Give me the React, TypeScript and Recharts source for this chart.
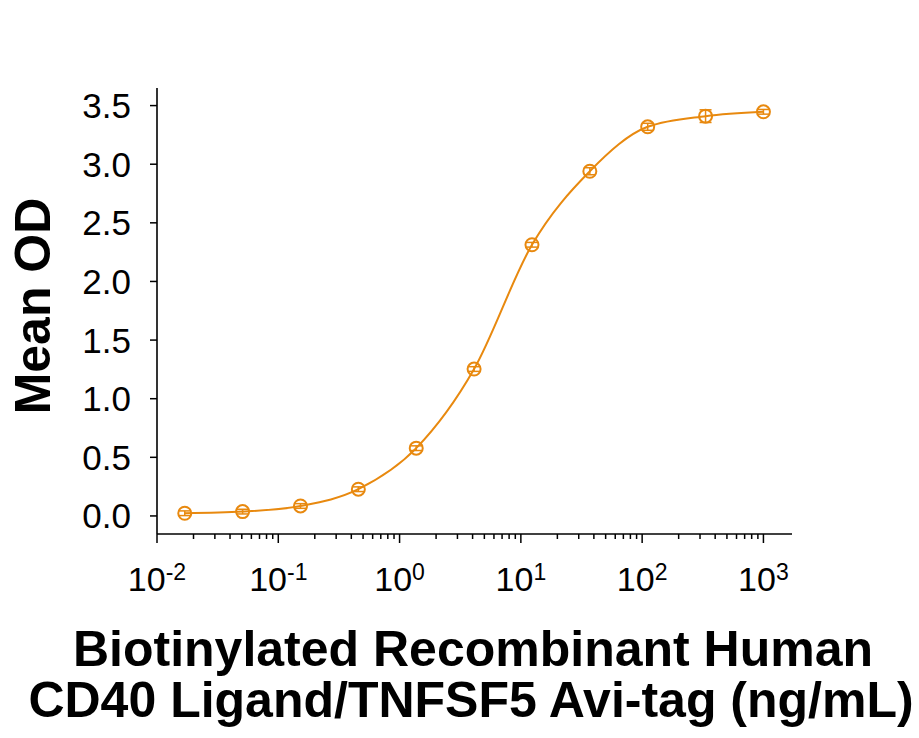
import { ComposedChart, Line, Scatter, ErrorBar, XAxis, YAxis, Label } from 'recharts'

// concentration (ng/mL), 3-fold dilution series
const concentrations = [0.01694, 0.0508, 0.1524, 0.4572, 1.372, 4.115, 12.35, 37.04, 111.1, 333.3, 1000]
const meanOD = [0.023, 0.037, 0.085, 0.228, 0.578, 1.253, 2.313, 2.94, 3.319, 3.41, 3.447]
const odError = [0.02, 0.02, 0.02, 0.02, 0.02, 0.02, 0.02, 0.03, 0.03, 0.054, 0.02]

const yTicks = [0, 0.5, 1, 1.5, 2, 2.5, 3, 3.5]
const majorTicks = [0.01, 0.1, 1, 10, 100, 1000]
const majorExponents = ['-2', '-1', '0', '1', '2', '3']
const minorSteps = [2, 3, 4, 5, 6, 7, 8, 9]
const xTicks = [
  ...majorTicks,
  ...majorTicks.slice(0, 5).flatMap(d => minorSteps.map(m => +(d * m).toPrecision(3))),
].sort((a, b) => a - b)

const rows = concentrations.map((c, i) => ({ conc: c, od: meanOD[i], err: odError[i] }))

const ORANGE = '#e8890f'
const FONT = '"Liberation Sans", Arial, sans-serif'

function XTick(props: any) {
  const { x, y, payload } = props
  const idx = majorTicks.findIndex(t => Math.abs(t - payload.value) / t < 1e-6)
  const major = idx >= 0
  return (
    <g>
      <line x1={x} y1={y} x2={x} y2={y + (major ? 9 : 5)} stroke="#000" strokeWidth={1.5} />
      {major && (
        <text x={x} y={591} textAnchor="middle" fontSize={34} fontFamily={FONT} fill="#000">
          <tspan>10</tspan>
          <tspan dy={-11} fontSize={23}>{majorExponents[idx]}</tspan>
        </text>
      )}
    </g>
  )
}

function Circle(props: any) {
  const { cx, cy } = props
  return <circle cx={cx} cy={cy} r={6.5} fill="none" stroke={ORANGE} strokeWidth={2} />
}

export default function App() {
  return (
    <div style={{ position: 'absolute', left: 0, top: 0, background: '#fff' }}>
      <ComposedChart
        width={919}
        height={738}
        data={rows}
        margin={{ top: 88, right: 127, bottom: 144, left: 77 }}
      >
        <XAxis
          dataKey="conc"
          type="number"
          scale="log"
          domain={[0.01, 1720]}
          allowDataOverflow
          ticks={xTicks}
          interval={0}
          tick={<XTick />}
          tickLine={false}
          tickSize={0}
          tickMargin={0}
          height={60}
          axisLine={{ stroke: '#000', strokeWidth: 1.6 }}
        >
          <Label
            content={() => (
              <text textAnchor="middle" fontSize={50} fontWeight="bold" fontFamily={FONT} fill="#000">
                <tspan x={473} y={666}>Biotinylated Recombinant Human</tspan>
                <tspan x={471} y={717}>CD40 Ligand/TNFSF5 Avi-tag (ng/mL)</tspan>
              </text>
            )}
          />
        </XAxis>
        <YAxis
          type="number"
          domain={[-0.154, 3.65]}
          allowDataOverflow
          ticks={yTicks}
          interval={0}
          width={80}
          tickFormatter={(v: number) => v.toFixed(1)}
          tick={{ fill: '#000', fontSize: 35, fontFamily: FONT }}
          tickSize={7}
          tickMargin={19}
          tickLine={{ stroke: '#000', strokeWidth: 1.5 }}
          axisLine={{ stroke: '#000', strokeWidth: 1.6 }}
        >
          <Label
            content={() => (
              <text
                x={50}
                y={306}
                transform="rotate(-90 50 306)"
                textAnchor="middle"
                fontSize={50}
                fontWeight="bold"
                fontFamily={FONT}
                fill="#000"
              >
                Mean OD
              </text>
            )}
          />
        </YAxis>
        <Line
          dataKey="od"
          type="monotone"
          stroke={ORANGE}
          strokeWidth={2}
          dot={false}
          activeDot={false}
          isAnimationActive={false}
        />
        <Scatter dataKey="od" shape={<Circle />} isAnimationActive={false}>
          <ErrorBar dataKey="err" direction="y" width={6} stroke={ORANGE} strokeWidth={1.5} />
        </Scatter>
      </ComposedChart>
    </div>
  )
}
